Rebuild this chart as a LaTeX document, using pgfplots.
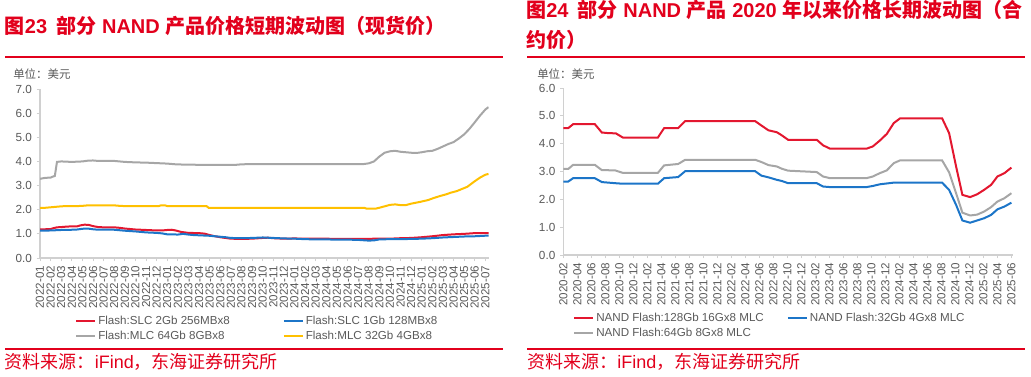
\documentclass[border=0pt]{standalone}
\usepackage{pgfplots}
\pgfplotsset{compat=1.18}
\usepackage{fontspec}
\setmainfont{Liberation Sans}
\newfontfamily\cjk{Noto Sans CJK SC}
\definecolor{titlered}{HTML}{E2001C}
\definecolor{lred}{HTML}{E3172F}
\definecolor{lblue}{HTML}{1C75C8}
\definecolor{lgray}{HTML}{A6A6A6}
\definecolor{lyellow}{HTML}{FFC000}
\definecolor{txtgray}{HTML}{595959}
\definecolor{axgray}{HTML}{D0D0D0}
\pgfplotsset{
  mystyle/.style={
    scale only axis, anchor=south west,
    axis lines*=left,
    axis line style={draw=axgray, line width=0.8pt},
    tick style={draw=axgray, line width=0.6pt},
    tick align=outside, major tick length=2.5pt,
    /pgf/number format/assume math mode=true,
    yticklabel style={font=\fontsize{8.8}{10}\selectfont, text=txtgray,
      /pgf/number format/.cd, fixed, fixed zerofill, precision=1},
    xticklabel style={rotate=90, anchor=east, font=\fontsize{8.7}{10}\selectfont, text=txtgray},
    every axis plot/.append style={line width=1.5pt, mark=none},
    legend columns=2, legend cell align=left,
    legend image code/.code={\draw[##1,line width=1.5pt] (0pt,0pt) -- (14.25pt,0pt);},
    legend style={draw=none, fill=none, anchor=north west, inner sep=0pt,
      font=\fontsize{8.7}{10}\selectfont, text=txtgray,
      nodes={inner xsep=0pt, inner ysep=0pt, text height=6.5pt, text depth=1.8pt},
      row sep=2.95pt,
      /tikz/every odd column/.append style={column sep=1.5pt}},
  }
}
\begin{document}
\begin{tikzpicture}
\useasboundingbox (0,0) rectangle (773.25pt,282.75pt);
\clip (0,0) rectangle (773.25pt,282.75pt);
% ---------- left titles ----------
\node[anchor=base west, inner sep=0, text=titlered, font=\fontsize{15}{18}\selectfont\bfseries] at (3.5pt,257.8pt)
  {{\cjk 图}23\hspace{7pt}{\cjk 部分} NAND {\cjk 产品价格短期波动图（现货价）}};
\draw[titlered, line width=1.5pt] (3.75pt,240pt) -- (377.25pt,240pt);
\node[anchor=base west, inner sep=0, text=txtgray, font=\fontsize{8.6}{10}\selectfont\cjk] at (9.75pt,223.9pt) {单位：美元};
\draw[titlered, line width=1.5pt] (3.75pt,21pt) -- (377.25pt,21pt);
\node[anchor=base west, inner sep=0, text=titlered, font=\fontsize{13.5}{16}\selectfont] at (3.5pt,6.3pt)
  {{\cjk 资料来源：}iFind{\cjk ，东海证券研究所}};
% ---------- right titles ----------
\node[anchor=base west, inner sep=0, text=titlered, font=\fontsize{15}{18}\selectfont\bfseries] at (394.5pt,269.25pt)
  {{\cjk 图}24\hspace{7pt}{\cjk 部分} NAND {\cjk 产品} 2020 {\cjk 年以来价格长期波动图（合}};
\node[anchor=base west, inner sep=0, text=titlered, font=\fontsize{15}{18}\selectfont\bfseries] at (394.5pt,246.75pt)
  {{\cjk 约价）}};
\draw[titlered, line width=1.5pt] (395.25pt,240pt) -- (768.75pt,240pt);
\node[anchor=base west, inner sep=0, text=txtgray, font=\fontsize{8.6}{10}\selectfont\cjk] at (402.75pt,223.9pt) {单位：美元};
\draw[titlered, line width=1.5pt] (395.25pt,21pt) -- (768.75pt,21pt);
\node[anchor=base west, inner sep=0, text=titlered, font=\fontsize{13.5}{16}\selectfont] at (395.25pt,6.3pt)
  {{\cjk 资料来源：}iFind{\cjk ，东海证券研究所}};
% ---------- left axis ----------
\begin{axis}[mystyle, at={(30pt,89.25pt)}, width=336.4pt, height=126.75pt,
  xmin=0, xmax=42.3, ymin=0, ymax=7, ytick={0,1,...,7},
  xtick={0,1,...,42},
  xticklabels={2022-01,2022-02,2022-03,2022-04,2022-05,2022-06,2022-07,2022-08,2022-09,2022-10,2022-11,2022-12,
    2023-01,2023-02,2023-03,2023-04,2023-05,2023-06,2023-07,2023-08,2023-09,2023-10,2023-11,2023-12,
    2024-01,2024-02,2024-03,2024-04,2024-05,2024-06,2024-07,2024-08,2024-09,2024-10,2024-11,2024-12,
    2025-01,2025-02,2025-03,2025-04,2025-05,2025-06,2025-07},
  legend style={at={(axis description cs:0.078,-0.340)},
    /tikz/every even column/.append style={column sep=39.75pt}},
]
\addplot[lred] coordinates {(0,1.18)(0.5,1.19)(1.0,1.20)(1.3,1.24)(1.6,1.27)(2.0,1.28)(2.5,1.30)(3.0,1.31)(3.5,1.31)(3.8,1.35)(4.2,1.38)(4.6,1.37)(5.0,1.32)(5.5,1.28)(6.0,1.27)(7.0,1.27)(7.5,1.25)(8.0,1.22)(9.0,1.18)(10.0,1.16)(11.0,1.14)(11.5,1.14)(12.0,1.16)(12.4,1.17)(12.8,1.14)(13.3,1.08)(14.0,1.04)(15.0,1.03)(15.5,1.01)(16.0,0.95)(16.5,0.90)(17.0,0.86)(17.5,0.83)(18.0,0.80)(19.0,0.79)(20.0,0.80)(21.0,0.83)(21.5,0.84)(22.0,0.82)(23,0.80)(24,0.81)(25,0.80)(26,0.80)(27,0.80)(28,0.79)(29,0.79)(30,0.79)(31,0.79)(31.5,0.80)(32,0.80)(33,0.80)(34,0.82)(35,0.83)(36,0.86)(37,0.90)(38,0.95)(39,0.98)(40,1.00)(41,1.03)(42.3,1.03)};
\addlegendentry{Flash:SLC 2Gb 256MBx8}
\addplot[lblue] coordinates {(0,1.13)(1,1.14)(2,1.16)(3,1.17)(3.5,1.18)(4.0,1.21)(4.5,1.22)(5.0,1.19)(5.5,1.17)(7,1.17)(8,1.13)(9,1.10)(10,1.06)(11,1.04)(11.5,1.02)(12,0.98)(12.5,0.98)(13,0.97)(13.5,1.00)(14,0.97)(14.5,0.95)(15.5,0.93)(16,0.92)(16.5,0.90)(17,0.88)(17.5,0.86)(18,0.83)(19,0.82)(20,0.83)(21,0.85)(22,0.83)(23,0.81)(24,0.80)(25,0.78)(26,0.77)(27,0.77)(28,0.76)(29,0.76)(30,0.75)(31,0.72)(31.5,0.73)(32,0.77)(33,0.78)(34,0.78)(35,0.79)(36,0.80)(37,0.82)(38,0.85)(39,0.87)(40,0.89)(41,0.90)(42.3,0.93)};
\addlegendentry{Flash:SLC 1Gb 128MBx8}
\addplot[lgray] coordinates {(0,3.28)(0.5,3.32)(1.0,3.33)(1.2,3.37)(1.4,3.40)(1.6,3.98)(2.0,4.00)(3.0,3.98)(3.5,3.99)(4.0,4.00)(4.5,4.03)(5.0,4.04)(5.5,4.02)(6.0,4.02)(7.0,4.02)(7.5,4.00)(8.0,3.98)(9.0,3.96)(10.0,3.95)(11.0,3.93)(12.0,3.91)(12.8,3.88)(13.5,3.87)(15.0,3.86)(17.0,3.86)(18.5,3.86)(19.0,3.88)(20,3.89)(25,3.89)(30.5,3.89)(31.0,3.92)(31.5,4.00)(32.0,4.20)(32.5,4.36)(33.0,4.42)(33.5,4.44)(34.0,4.40)(34.5,4.38)(35.0,4.36)(35.5,4.35)(36.0,4.38)(36.5,4.42)(37.0,4.44)(37.5,4.52)(38.0,4.62)(38.5,4.72)(39.0,4.80)(39.5,4.95)(40.0,5.12)(40.5,5.35)(41.0,5.62)(41.5,5.90)(42.0,6.15)(42.3,6.25)};
\addlegendentry{Flash:MLC 64Gb 8GBx8}
\addplot[lyellow] coordinates {(0,2.07)(0.5,2.08)(1.0,2.10)(1.5,2.12)(2.0,2.14)(2.5,2.15)(3.5,2.15)(4.0,2.16)(4.5,2.18)(5,2.18)(6,2.18)(7,2.18)(7.5,2.16)(8,2.15)(11.2,2.15)(11.4,2.18)(11.8,2.18)(12.0,2.15)(15.7,2.15)(15.9,2.08)(20,2.08)(25,2.08)(30.6,2.08)(30.8,2.04)(31.6,2.04)(32,2.08)(32.5,2.14)(33.0,2.20)(33.5,2.22)(34.0,2.19)(34.5,2.19)(35.0,2.25)(35.8,2.32)(36.6,2.40)(37.1,2.48)(37.6,2.55)(38.4,2.65)(38.7,2.70)(39.3,2.77)(40.3,2.95)(41.0,3.18)(41.5,3.33)(42.0,3.45)(42.3,3.48)};
\addlegendentry{Flash:MLC 32Gb 4GBx8}
\end{axis}
% ---------- right axis ----------
\begin{axis}[mystyle, at={(422.5pt,91.5pt)}, width=337.3pt, height=125.25pt,
  xmin=0, xmax=64.24, ymin=0, ymax=6, ytick={0,1,...,6},
  xtick={0,2,...,64},
  xticklabels={2020-02,2020-04,2020-06,2020-08,2020-10,2020-12,
    2021-02,2021-04,2021-06,2021-08,2021-10,2021-12,
    2022-02,2022-04,2022-06,2022-08,2022-10,2022-12,
    2023-02,2023-04,2023-06,2023-08,2023-10,2023-12,
    2024-02,2024-04,2024-06,2024-08,2024-10,2024-12,
    2025-02,2025-04,2025-06},
  legend style={at={(axis description cs:0.0215,-0.344)},
    /tikz/every even column/.append style={column sep=17.25pt}},
]
\addplot[lred] coordinates {(0,4.56)(0.7,4.56)(1.4,4.70)(4.5,4.70)(5.5,4.40)(6.4,4.38)(7.5,4.37)(8.5,4.22)(13.5,4.22)(14.4,4.56)(16.4,4.56)(17.4,4.81)(27.4,4.81)(28.3,4.65)(29.3,4.48)(30.5,4.41)(31.2,4.30)(32.1,4.14)(36.2,4.14)(37.1,3.94)(38.1,3.82)(43.3,3.82)(44.2,3.90)(45.2,4.11)(46.2,4.35)(47.2,4.74)(48.1,4.91)(54.1,4.91)(55.1,4.38)(56.1,3.18)(57.0,2.16)(58.1,2.08)(59.1,2.18)(60.1,2.34)(61.1,2.52)(62.0,2.82)(63.0,2.94)(64.0,3.14)};
\addlegendentry{NAND Flash:128Gb 16Gx8 MLC}
\addplot[lblue] coordinates {(0,2.64)(0.7,2.64)(1.4,2.76)(4.5,2.76)(5.5,2.62)(7.4,2.58)(8.5,2.56)(13.5,2.56)(14.4,2.76)(16.4,2.80)(17.4,3.01)(27.4,3.01)(28.3,2.85)(29.3,2.79)(30.5,2.70)(31.2,2.66)(32.1,2.58)(36.2,2.58)(37.1,2.46)(38.1,2.44)(43.3,2.44)(44.2,2.48)(45.2,2.54)(46.2,2.57)(47.2,2.60)(54.1,2.60)(55.1,2.34)(56.1,1.80)(57.0,1.24)(58.1,1.16)(59.1,1.24)(60.1,1.32)(61.1,1.44)(62.0,1.64)(63.0,1.74)(64.0,1.88)};
\addlegendentry{NAND Flash:32Gb 4Gx8 MLC}
\addplot[lgray] coordinates {(0,3.09)(0.7,3.09)(1.4,3.24)(4.5,3.24)(5.5,3.05)(7.4,3.04)(8.5,2.95)(13.5,2.95)(14.4,3.22)(16.4,3.27)(17.4,3.42)(27.4,3.42)(28.3,3.34)(29.3,3.23)(30.5,3.18)(31.2,3.10)(32.1,3.03)(36.2,2.98)(37.1,2.82)(38.1,2.76)(43.3,2.76)(44.2,2.82)(45.2,2.94)(46.2,3.04)(47.2,3.30)(48.1,3.40)(54.1,3.40)(55.1,2.97)(56.1,2.22)(57.0,1.52)(58.1,1.42)(59.1,1.45)(60.1,1.56)(61.1,1.72)(62.0,1.92)(63.0,2.04)(64.0,2.22)};
\addlegendentry{NAND Flash:64Gb 8Gx8 MLC}
\end{axis}
\end{tikzpicture}
\end{document}
